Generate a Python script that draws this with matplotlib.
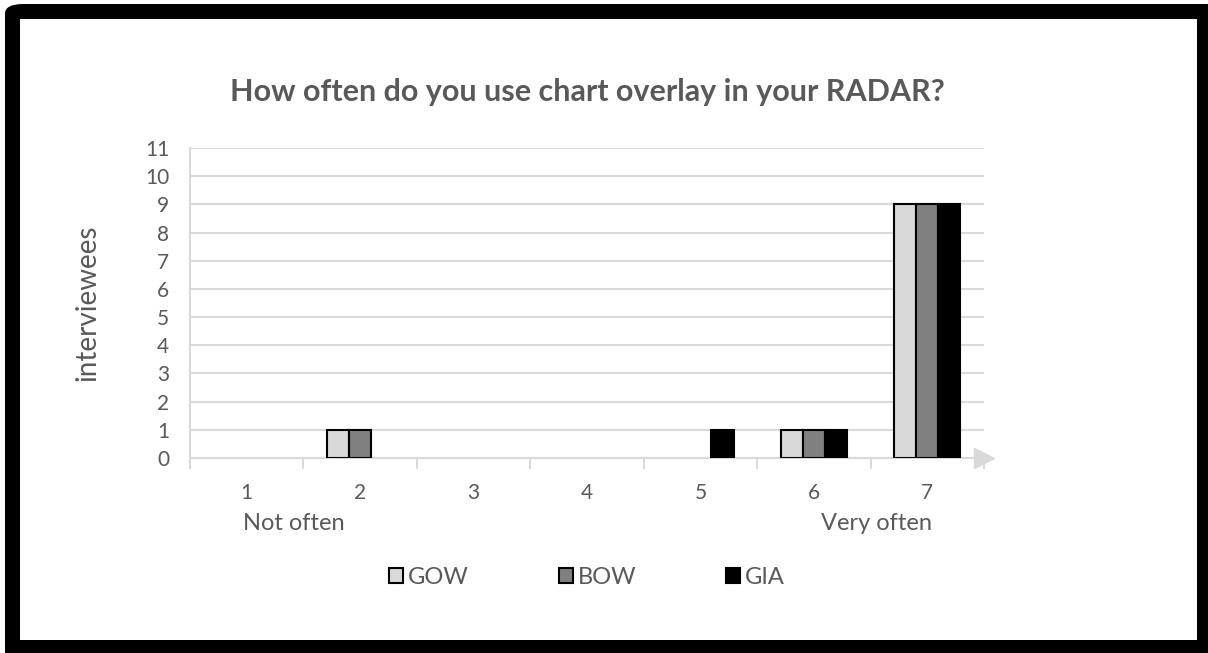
import matplotlib
matplotlib.use("Agg")
import matplotlib.pyplot as plt
from matplotlib.patches import FancyBboxPatch, Rectangle, Patch
import numpy as np

plt.rcParams['font.family'] = ['Lato', 'DejaVu Sans']

# survey answers, 1 = not often ... 7 = very often
categories = ['1', '2', '3', '4', '5', '6', '7']
gow = [0, 1, 0, 0, 0, 1, 9]
bow = [0, 1, 0, 0, 0, 1, 9]
gia = [0, 0, 0, 0, 1, 1, 9]
series_names = ['GOW', 'BOW', 'GIA']
series_colors = ['#D9D9D9', '#808080', '#000000']
y_ticks = list(range(0, 12))

txt = '#595959'
grid = '#D9D9D9'

fig = plt.figure(figsize=(12.08, 6.53), dpi=100)

# thick black frame round the chart
fig.patches.append(FancyBboxPatch((5 / 1208, -0.1), 1.2, (653 - 4) / 653 + 0.1,
                                  boxstyle='round,pad=0,rounding_size=0.015',
                                  transform=fig.transFigure, facecolor='black',
                                  edgecolor='none', zorder=0))
fig.patches.append(Rectangle((20 / 1208, 13 / 653), (1197 - 20) / 1208, (640 - 19) / 653,
                             transform=fig.transFigure, facecolor='white',
                             edgecolor='none', zorder=1))

ax = fig.add_axes([190 / 1208, 1 - 458 / 653, (984 - 190) / 1208, (458 - 148) / 653])
ax.set_facecolor('none')
ax.set_zorder(5)

x = np.arange(len(categories))
w = 0.195
handles = []
for i, (vals, name, col) in enumerate(zip([gow, bow, gia], series_names, series_colors)):
    # empty bars get no outline
    lw = [1.5 if v > 0 else 0 for v in vals]
    ax.bar(x + (i - 1) * w, vals, width=w, color=col, edgecolor='black',
           linewidth=lw, zorder=3)
    handles.append(Patch(facecolor=col, edgecolor='black', linewidth=1.5, label=name))

ax.set_xlim(-0.5, len(categories) - 0.5)
ax.set_ylim(0, 11)
ax.set_yticks(y_ticks)
ax.set_xticks(x)
ax.set_xticklabels(categories)
ax.set_xticks(np.arange(-0.5, len(categories), 1), minor=True)
ax.tick_params(axis='x', which='major', length=0, pad=18, labelsize=15, labelcolor=txt)
ax.tick_params(axis='x', which='minor', length=8, width=1.5, color=grid)
ax.tick_params(axis='y', length=0, pad=15, labelsize=15, labelcolor=txt)

ax.grid(axis='y', color=grid, linewidth=1.5, zorder=0)
for s in ['top', 'right']:
    ax.spines[s].set_visible(False)
ax.spines['left'].set_color(grid)
ax.spines['left'].set_linewidth(1.5)
ax.spines['bottom'].set_color(grid)
ax.spines['bottom'].set_linewidth(1.5)
ax.plot([1], [0], marker='>', markersize=14, color=grid, transform=ax.transAxes,
        clip_on=False, zorder=4)

ax.set_ylabel('interviewees', fontsize=20, color=txt, labelpad=32)
ax.set_title('How often do you use chart overlay in your RADAR?', fontsize=22,
             fontweight='bold', color=txt, pad=34)

ax.text(-0.03, -0.21, 'Not often', transform=ax.get_xaxis_transform(), ha='left',
        va='center', fontsize=17, color=txt)
ax.text(6.04, -0.21, 'Very often', transform=ax.get_xaxis_transform(), ha='right',
        va='center', fontsize=17, color=txt)

leg = ax.legend(handles=handles, loc='center', bbox_to_anchor=(0.5, -0.385), ncol=3,
                frameon=False, fontsize=17, handlelength=0.6, handleheight=0.6,
                handletextpad=0.2, columnspacing=3.8, labelcolor=txt)

fig.savefig('out.png', dpi=100)
